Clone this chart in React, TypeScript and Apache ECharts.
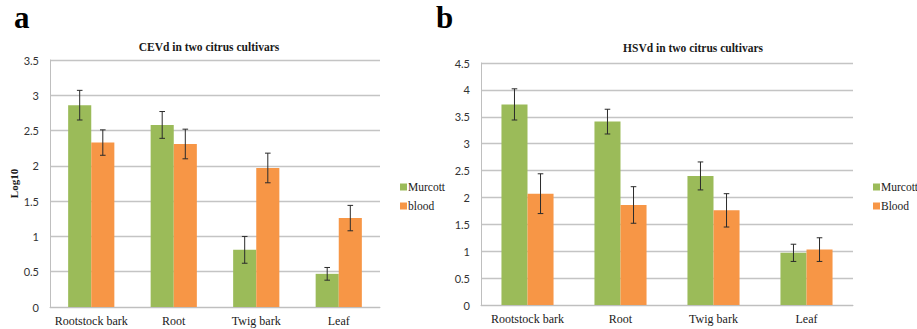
import React, { useEffect, useRef } from "react";
import * as echarts from "echarts";

const categories = ["Rootstock bark", "Root", "Twig bark", "Leaf"];
const yTicksA = { min: 0, max: 3.5, interval: 0.5 };
const yTicksB = { min: 0, max: 4.5, interval: 0.5 };

const cevdMurcott = [2.86, 2.58, 0.81, 0.47];
const cevdMurcottErr = [0.21, 0.19, 0.19, 0.09];
const cevdBlood = [2.33, 2.31, 1.97, 1.26];
const cevdBloodErr = [0.18, 0.21, 0.21, 0.18];

const hsvdMurcott = [3.73, 3.41, 2.4, 0.97];
const hsvdMurcottErr = [0.29, 0.23, 0.26, 0.16];
const hsvdBlood = [2.07, 1.86, 1.76, 1.03];
const hsvdBloodErr = [0.37, 0.34, 0.31, 0.22];

const GREEN = "#9bbb59";
const ORANGE = "#f79646";
const SERIF = "Liberation Serif, serif";
const SANS = "Lato";
const GAP = 0.44;

function errSeries(vals: number[], errs: number[], side: number, gi: number) {
  return {
    type: "custom",
    xAxisIndex: gi,
    yAxisIndex: gi,
    z: 10,
    silent: true,
    data: vals.map((v, i) => [i, v, errs[i]]),
    encode: { x: 0, y: 1 },
    renderItem: (params: any, api: any) => {
      const idx = api.value(0);
      const v = api.value(1);
      const e = api.value(2);
      const band = api.size([1, 0])[0];
      const bw = (band * (1 - GAP)) / 2;
      const cx = api.coord([idx, v])[0] + (side * bw) / 2;
      const yt = api.coord([idx, v + e])[1];
      const yb = api.coord([idx, v - e])[1];
      const cap = 2.8;
      const st = { stroke: "#2b2b2b", lineWidth: 1 };
      return {
        type: "group",
        children: [
          { type: "line", shape: { x1: cx, y1: yt, x2: cx, y2: yb }, style: st },
          { type: "line", shape: { x1: cx - cap, y1: yt, x2: cx + cap, y2: yt }, style: st },
          { type: "line", shape: { x1: cx - cap, y1: yb, x2: cx + cap, y2: yb }, style: st },
        ],
      };
    },
  };
}

function xAxis(gi: number) {
  return {
    type: "category",
    gridIndex: gi,
    data: categories,
    axisLine: { lineStyle: { color: "#bfbfbf", width: 1 } },
    axisTick: { show: false },
    axisLabel: { interval: 0, fontFamily: SERIF, fontSize: 12, color: "#1a1a1a", margin: 8 },
  };
}

function yAxis(gi: number, t: any, name: string) {
  return {
    type: "value",
    gridIndex: gi,
    min: t.min,
    max: t.max,
    interval: t.interval,
    name,
    nameLocation: "middle",
    nameGap: 30,
    nameTextStyle: { fontFamily: SERIF, fontSize: 11, fontWeight: "bold", color: "#1a1a1a" },
    axisLine: { show: true, lineStyle: { color: "#bfbfbf", width: 1 } },
    axisTick: { show: false },
    splitLine: { lineStyle: { color: "#c4c4c4", width: 1.3 } },
    axisLabel: { fontFamily: SANS, fontSize: 11, color: "#333", margin: 11 },
  };
}

function barSeries(name: string, vals: number[], color: string, gi: number) {
  return {
    type: "bar",
    name,
    xAxisIndex: gi,
    yAxisIndex: gi,
    data: vals,
    barGap: "0%",
    barCategoryGap: GAP * 100 + "%",
    itemStyle: { color },
  };
}

function legend(left: number, names: string[]) {
  return {
    orient: "vertical",
    left,
    top: 175,
    itemWidth: 7,
    itemHeight: 7,
    itemGap: 5,
    icon: "rect",
    selectedMode: false,
    data: names,
    textStyle: { fontFamily: SERIF, fontSize: 11.5, color: "#1a1a1a", lineHeight: 14, padding: [0, 0, 0, -4] },
  };
}

export default function App() {
  const ref = useRef<HTMLDivElement>(null);
  useEffect(() => {
    document.body.style.margin = "0";
    const chart = echarts.init(ref.current!, undefined, { renderer: "svg" });
    chart.setOption({
      animation: false,
      backgroundColor: "#fff",
      color: [GREEN, ORANGE],
      textStyle: { fontFamily: SERIF },
      title: [
        {
          text: "CEVd in two citrus cultivars",
          left: 204,
          top: 36,
          textAlign: "center",
          textStyle: { fontFamily: SERIF, fontSize: 11.5, fontWeight: "bold", color: "#1a1a1a" },
        },
        {
          text: "HSVd in two citrus cultivars",
          left: 688,
          top: 37,
          textAlign: "center",
          textStyle: { fontFamily: SERIF, fontSize: 11.5, fontWeight: "bold", color: "#1a1a1a" },
        },
      ],
      graphic: [
        { type: "text", left: 14, top: 2, style: { text: "a", font: "bold 31px Liberation Serif", fill: "#000" } },
        { type: "text", left: 436, top: 2, style: { text: "b", font: "bold 31px Liberation Serif", fill: "#000" } },
      ],
      legend: [legend(395, ["Murcott", "blood"]), legend(868, ["Murcott", "Blood"])],
      grid: [
        { left: 50, right: 537, top: 60, bottom: 22 },
        { left: 481, right: 64, top: 63, bottom: 24 },
      ],
      xAxis: [xAxis(0), xAxis(1)],
      yAxis: [yAxis(0, yTicksA, "Log10"), yAxis(1, yTicksB, "")],
      series: [
        barSeries("Murcott", cevdMurcott, GREEN, 0),
        barSeries("blood", cevdBlood, ORANGE, 0),
        errSeries(cevdMurcott, cevdMurcottErr, -1, 0),
        errSeries(cevdBlood, cevdBloodErr, 1, 0),
        barSeries("Murcott", hsvdMurcott, GREEN, 1),
        barSeries("Blood", hsvdBlood, ORANGE, 1),
        errSeries(hsvdMurcott, hsvdMurcottErr, -1, 1),
        errSeries(hsvdBlood, hsvdBloodErr, 1, 1),
      ],
    });
    return () => chart.dispose();
  }, []);
  return <div ref={ref} style={{ width: 917, height: 329 }} />;
}
